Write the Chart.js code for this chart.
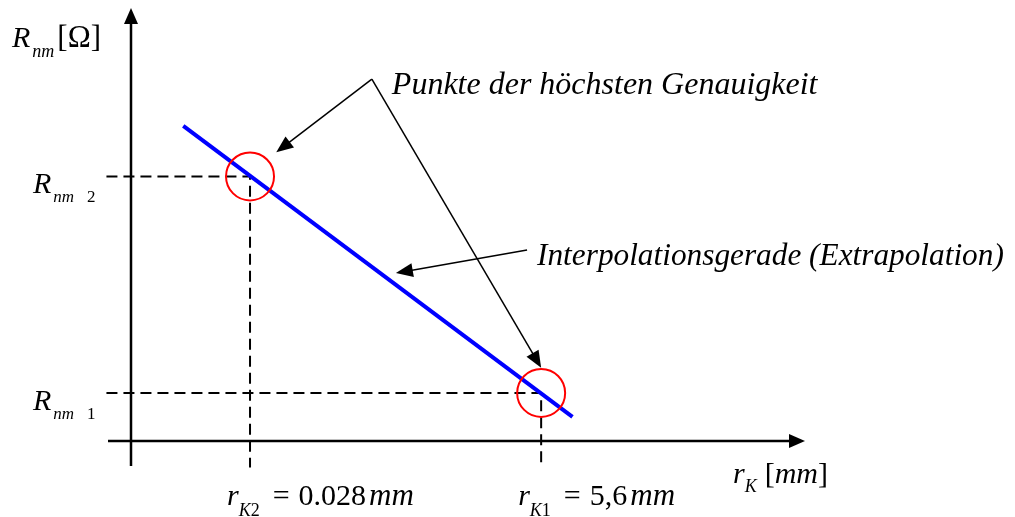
<!DOCTYPE html>
<html>
<head>
<meta charset="utf-8">
<script src="https://cdn.jsdelivr.net/npm/chart.js@4/dist/chart.umd.min.js"></script>
<style>
  html, body { margin: 0; padding: 0; background: #fff; }
  #wrap { width: 1015px; height: 517px; position: relative; }
</style>
</head>
<body>
<div id="wrap"><canvas id="c"></canvas></div>
<script>
// Messpunkte: Kontaktradius r_K [mm] und zugehoeriger Widerstand R_nm (schematisch)
const rK = [0.028, 5.6];
const rNm = [5.5, 1.0];
const pointIndex = ['2', '1'];
const rKText = ['0.028', '5,6'];

// Interpolationsgerade, an beiden Enden extrapoliert
const lineX = [-1.25, 6.2];
const lineY = [6.55, 0.5];

// Hinweispfeile (Datenkoordinaten)
const calloutApex = { x: 2.36, y: 7.52 };
const calloutTips = [{ x: 0.53, y: 6.0 }, { x: 5.6, y: 1.52 }];
const lineArrowFrom = { x: 5.33, y: 3.97 };
const lineArrowTo = { x: 2.82, y: 3.49 };

const FONT = '"Liberation Serif", "Times New Roman", serif';
const X_MIN = -2.25, X_MAX = 10.65, Y_MIN = 0, Y_MAX = 9;
const GUIDE_X0 = -2.72, GUIDE_Y0 = -0.55;

const points = rK.map((x, i) => ({ x, y: rNm[i] }));
const line = lineX.map((x, i) => ({ x, y: lineY[i] }));
const guides = rK.map((x, i) => [
  { x: GUIDE_X0, y: rNm[i] }, { x, y: rNm[i] }, { x, y: GUIDE_Y0 }
]);

function runs(ctx, x, y, parts) {
  for (const p of parts) {
    if (p.gap) { x += p.gap; continue; }
    ctx.font = (p.i ? 'italic ' : '') + p.s + 'px ' + FONT;
    ctx.fillText(p.t, x, y + (p.dy || 0));
    x += ctx.measureText(p.t).width;
  }
  return x;
}

function arrowHead(ctx, x0, y0, x1, y1, len, half) {
  const a = Math.atan2(y1 - y0, x1 - x0);
  ctx.beginPath();
  ctx.moveTo(x1, y1);
  ctx.lineTo(x1 - len * Math.cos(a) + half * Math.sin(a), y1 - len * Math.sin(a) - half * Math.cos(a));
  ctx.lineTo(x1 - len * Math.cos(a) - half * Math.sin(a), y1 - len * Math.sin(a) + half * Math.cos(a));
  ctx.closePath();
  ctx.fill();
}

function arrow(ctx, x0, y0, x1, y1, len, half, w) {
  const a = Math.atan2(y1 - y0, x1 - x0);
  ctx.lineWidth = w;
  ctx.beginPath();
  ctx.moveTo(x0, y0);
  ctx.lineTo(x1 - (len - 2) * Math.cos(a), y1 - (len - 2) * Math.sin(a));
  ctx.stroke();
  arrowHead(ctx, x0, y0, x1, y1, len, half);
}

const axesPlugin = {
  id: 'schemaAxes',
  beforeDatasetsDraw(chart) {
    const { ctx, chartArea: ca, scales: { x, y } } = chart;
    const y0 = y.getPixelForValue(0);
    const x0 = ca.left;
    ctx.save();
    ctx.strokeStyle = '#000';
    ctx.fillStyle = '#000';
    ctx.lineCap = 'butt';
    // Abszisse
    arrow(ctx, x.getPixelForValue(-2.69), y0, ca.right, y0, 16, 7, 2.5);
    // Ordinate
    arrow(ctx, x0, y.getPixelForValue(-0.52), x0, ca.top, 16, 7, 2.5);
    ctx.restore();
  },
  afterDatasetsDraw(chart) {
    const { ctx, scales: { x, y } } = chart;
    const px = v => x.getPixelForValue(v);
    const py = v => y.getPixelForValue(v);
    ctx.save();
    ctx.fillStyle = '#000';
    ctx.strokeStyle = '#000';
    ctx.textBaseline = 'alphabetic';

    // Hinweis auf die beiden Messpunkte
    const ax = px(calloutApex.x), ay = py(calloutApex.y);
    for (const t of calloutTips) arrow(ctx, ax, ay, px(t.x), py(t.y), 17, 7, 1.5);
    ctx.font = 'italic 32px ' + FONT;
    ctx.fillText('Punkte der höchsten Genauigkeit', ax + 20, ay + 15);

    // Hinweis auf die Gerade
    const fx = px(lineArrowFrom.x), fy = py(lineArrowFrom.y);
    arrow(ctx, fx, fy, px(lineArrowTo.x), py(lineArrowTo.y), 17, 7, 1.5);
    ctx.font = 'italic 31.3px ' + FONT;
    ctx.fillText('Interpolationsgerade (Extrapolation)', fx + 10, fy + 15);

    // Achsentitel
    runs(ctx, 12, 47, [
      { t: 'R', i: true, s: 30 }, { gap: 2 },
      { t: 'nm', i: true, s: 18, dy: 10 }, { gap: 3 },
      { t: '[Ω]', s: 31 }
    ]);
    runs(ctx, 733, py(0) + 42, [
      { t: 'r', i: true, s: 30 },
      { t: 'K', i: true, s: 18, dy: 9 }, { gap: 8 },
      { t: '[', s: 30 }, { t: 'mm', i: true, s: 30 }, { t: ']', s: 30 }
    ]);

    // Beschriftung der Messpunkte
    rK.forEach((v, i) => {
      const yy = py(rNm[i]) + 17;
      runs(ctx, 33, yy, [
        { t: 'R', i: true, s: 30 }, { gap: 2 },
        { t: 'nm', i: true, s: 17, dy: 9 }
      ]);
      runs(ctx, 87, yy + 9, [{ t: pointIndex[i], s: 17 }]);

      const xx = px(v) - 23;
      runs(ctx, xx, py(0) + 64, [
        { t: 'r', i: true, s: 30 },
        { t: 'K', i: true, s: 18, dy: 11 }, { t: pointIndex[i], s: 18, dy: 11 }, { gap: 13 },
        { t: '=', s: 30 }, { gap: 9 },
        { t: rKText[i], s: 30 }, { gap: 3 },
        { t: 'mm', i: true, s: 31 }
      ]);
    });
    ctx.restore();
  }
};

new Chart(document.getElementById('c'), {
  type: 'scatter',
  data: {
    datasets: [
      {
        label: 'Punkte der höchsten Genauigkeit',
        data: points,
        showLine: false,
        pointStyle: 'circle',
        pointRadius: 24,
        pointBorderWidth: 2,
        pointBorderColor: '#ff0000',
        pointBackgroundColor: 'rgba(0,0,0,0)',
        clip: false,
        order: 0
      },
      {
        label: 'Interpolationsgerade',
        data: line,
        showLine: true,
        borderColor: '#0000ff',
        borderWidth: 4,
        borderCapStyle: 'butt',
        pointRadius: 0,
        clip: false,
        order: 1
      },
      ...guides.map((g, i) => ({
        label: 'Hilfslinie ' + pointIndex[i],
        data: g,
        showLine: true,
        borderColor: '#000',
        borderWidth: 2,
        borderDash: [11, 6],
        pointRadius: 0,
        clip: false,
        order: 2
      }))
    ]
  },
  options: {
    responsive: true,
    maintainAspectRatio: false,
    animation: false,
    devicePixelRatio: 1,
    events: [],
    layout: { autoPadding: false, padding: { left: 131, right: 210, top: 8, bottom: 76 } },
    plugins: { legend: { display: false }, tooltip: { enabled: false } },
    scales: {
      x: { type: 'linear', min: X_MIN, max: X_MAX, display: false },
      y: { type: 'linear', min: Y_MIN, max: Y_MAX, display: false }
    }
  },
  plugins: [axesPlugin]
});
</script>
</body>
</html>
